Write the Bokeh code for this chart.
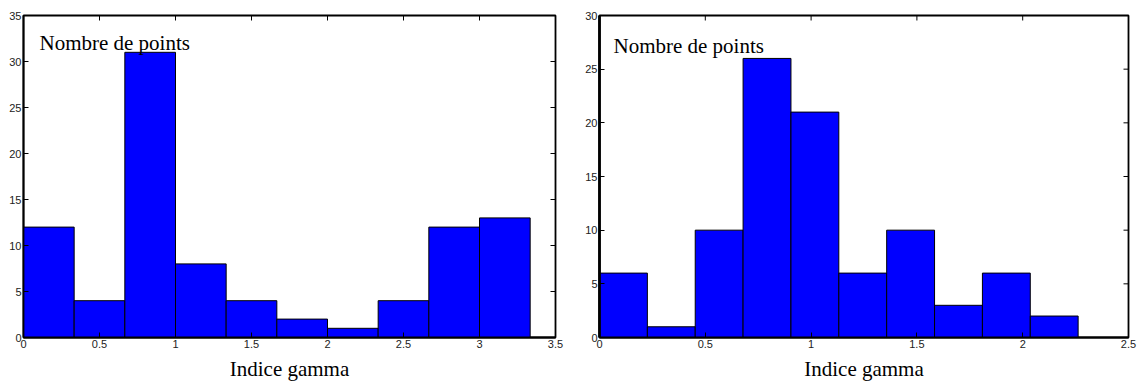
import math
from bokeh.plotting import figure
from bokeh.layouts import row
from bokeh.models import LinearAxis, Label, FixedTicker, Range1d
from bokeh.embed import file_html
from bokeh.resources import INLINE

# ---- data ----
left_counts = [12, 4, 31, 8, 4, 2, 1, 4, 12, 13]
left_bin_start = 0.0
left_bin_width = 1.0 / 3.0

right_counts = [6, 1, 10, 26, 21, 6, 10, 3, 6, 2]
right_bin_start = 0.0
right_bin_width = 0.2262

left_xticks = [0, 0.5, 1, 1.5, 2, 2.5, 3, 3.5]
left_yticks = [0, 5, 10, 15, 20, 25, 30, 35]
right_xticks = [0, 0.5, 1, 1.5, 2, 2.5]
right_yticks = [0, 5, 10, 15, 20, 25, 30]

x_label = "Indice gamma"
y_label = "Nombre de points"


def make(counts, start, width, xticks, yticks, xmax, ymax, fw, bl, br, lx, ly, ylw):
    p = figure(width=fw, height=383, output_backend="svg", toolbar_location=None,
               x_range=Range1d(0, xmax), y_range=Range1d(0, ymax),
               min_border_left=bl, min_border_right=br, min_border_top=15,
               min_border_bottom=44, x_axis_location=None, y_axis_location=None)
    p.grid.visible = False
    p.outline_line_color = "black"
    p.outline_line_width = 1.8
    lefts = [start + i * width for i in range(len(counts))]
    rights = [start + (i + 1) * width for i in range(len(counts))]
    p.quad(left=lefts, right=rights, bottom=0, top=counts,
           fill_color="#0000ff", line_color="black", line_width=1)

    def style(ax, ticks, lw):
        ax.ticker = FixedTicker(ticks=ticks)
        ax.major_tick_in = 5
        ax.major_tick_out = 0
        ax.minor_tick_line_color = None
        ax.axis_line_width = lw
        ax.major_tick_line_width = 1
        ax.major_label_standoff = 2
        ax.major_label_text_font = "Liberation Sans"
        ax.major_label_text_font_size = "11px"
        ax.major_label_text_color = "#222222"

    xb = LinearAxis()
    style(xb, xticks, 2)
    xb.axis_label = x_label
    xb.axis_label_text_font = "Liberation Serif"
    xb.axis_label_text_font_style = "normal"
    xb.axis_label_text_font_size = "21px"
    xb.axis_label_text_color = "black"
    xb.axis_label_standoff = 6
    p.add_layout(xb, "below")

    yl = LinearAxis()
    style(yl, yticks, ylw)
    p.add_layout(yl, "left")

    # mirrored ticks on top and right edges (half of each dash is clipped by the frame)
    p.scatter(x=xticks, y=[ymax] * len(xticks), marker="dash", size=10,
              angle=math.pi / 2, line_color="black", line_width=1)
    p.scatter(x=[xmax] * len(yticks), y=yticks, marker="dash", size=10,
              line_color="black", line_width=1)

    p.add_layout(Label(x=lx, y=ly, text=y_label, text_font="Liberation Serif",
                       text_font_size="21px", text_color="black",
                       text_baseline="alphabetic"))
    return p


p1 = make(left_counts, left_bin_start, left_bin_width, left_xticks, left_yticks,
          3.5, 35, 568, 23, 13, 0.105, 32.0, 1.8)
p2 = make(right_counts, right_bin_start, right_bin_width, right_xticks, right_yticks,
          2.5, 30, 574, 31, 14, 0.066, 27.2, 2.8)

layout = row(p1, p2)
open("out.html", "w").write(file_html(layout, INLINE))
